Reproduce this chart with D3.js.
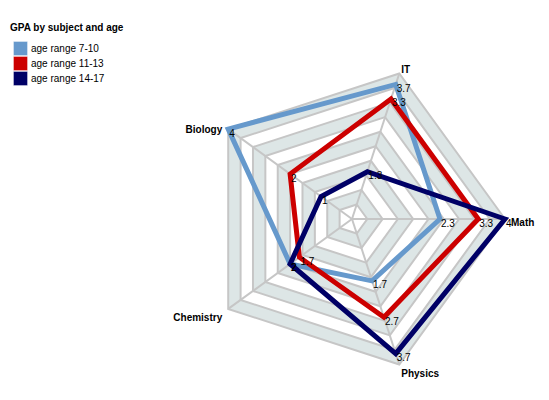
<!DOCTYPE html>
<html>
<head>
<meta charset="utf-8">
<script src="https://cdn.jsdelivr.net/npm/d3@7"></script>
<style>
    body { margin: 0; background: #fff; }
    text { font-family: "Liberation Sans", Arial, sans-serif; fill: #000; }
</style>
</head>
<body>
<svg id="radar" width="549" height="400"></svg>
<script>
const subjects = ['Math', 'IT', 'Biology', 'Chemistry', 'Physics'];
const seriesNames = ['age range 7-10', 'age range 11-13', 'age range 14-17'];
const age7to10 = [2.3, 3.7, 4, 2, 1.7];
const age11to13 = [3.3, 3.3, 2, 1.7, 2.7];
const age14to17 = [4, 1.3, 1, 2, 3.7];
const seriesColors = ['#6699cc', '#cc0000', '#000066'];
const maxValue = 4;
const levels = 10;

const series = [age7to10, age11to13, age14to17];

const svg = d3.select('#radar');
const cx = 352, cy = 219, radius = 153;

const r = d3.scaleLinear().domain([0, maxValue]).range([0, radius]);
const angle = d3.scaleLinear().domain([0, subjects.length]).range([0, -2 * Math.PI]);

const point = (value, i) => [cx + r(value) * Math.cos(angle(i)), cy + r(value) * Math.sin(angle(i))];

// grid: biggest first, alternating shaded / white bands
const grid = svg.append('g');
d3.range(levels, 0, -1).forEach(level => {
    const v = maxValue * level / levels;
    grid.append('polygon')
        .attr('points', subjects.map((s, i) => point(v, i).join(',')).join(' '))
        .attr('fill', level % 2 === 0 ? '#dde6e6' : '#ffffff')
        .attr('stroke', '#c6c6c6')
        .attr('stroke-width', 2);
});

grid.selectAll('line.axis')
    .data(subjects)
    .enter().append('line')
    .attr('class', 'axis')
    .attr('x1', cx).attr('y1', cy)
    .attr('x2', (d, i) => point(maxValue, i)[0])
    .attr('y2', (d, i) => point(maxValue, i)[1])
    .attr('stroke', '#c6c6c6')
    .attr('stroke-width', 2);

// axis names
svg.append('g').selectAll('text')
    .data(subjects)
    .enter().append('text')
    .attr('x', (d, i) => {
        const c = Math.cos(angle(i));
        return point(maxValue, i)[0] + (c > 0.9 ? 6 : c < 0 ? -6 : 2);
    })
    .attr('y', (d, i) => {
        const s = Math.sin(angle(i));
        return point(maxValue, i)[1] + (s > 0.1 ? 12.5 : s < -0.9 ? 0 : s < -0.1 ? 4 : 7);
    })
    .attr('text-anchor', (d, i) => Math.cos(angle(i)) < 0 ? 'end' : 'start')
    .style('font-size', '10px')
    .style('font-weight', 'bold')
    .text(d => d);

// series outlines
const line = d3.line().curve(d3.curveLinearClosed);
svg.append('g').selectAll('path')
    .data(series)
    .enter().append('path')
    .attr('d', vals => line(vals.map((v, i) => point(v, i))))
    .attr('fill', 'none')
    .attr('stroke', (d, k) => seriesColors[k])
    .attr('stroke-width', 5)
    .attr('stroke-linejoin', 'miter');

// value labels on top
const labels = svg.append('g');
series.forEach(vals => {
    labels.selectAll(null)
        .data(vals)
        .enter().append('text')
        .attr('x', (v, i) => point(v, i)[0] + 1)
        .attr('y', (v, i) => point(v, i)[1] + 7.5)
        .style('font-size', '10px')
        .text(v => v);
});

// legend
const legend = svg.append('g');
legend.append('text')
    .attr('x', 10).attr('y', 31)
    .style('font-size', '10px')
    .style('font-weight', 'bold')
    .text('GPA by subject and age');

const rows = legend.selectAll('g.row')
    .data(seriesNames)
    .enter().append('g')
    .attr('class', 'row')
    .attr('transform', (d, k) => `translate(13,${41 + k * 15})`);

rows.append('rect')
    .attr('x', 0.5).attr('y', 0.5)
    .attr('width', 14).attr('height', 14)
    .attr('fill', (d, k) => seriesColors[k])
    .attr('stroke', 'rgba(255,255,255,0.35)')
    .attr('stroke-width', 1);

rows.append('text')
    .attr('x', 18).attr('y', 11)
    .style('font-size', '10px')
    .text(d => d);
</script>
</body>
</html>
